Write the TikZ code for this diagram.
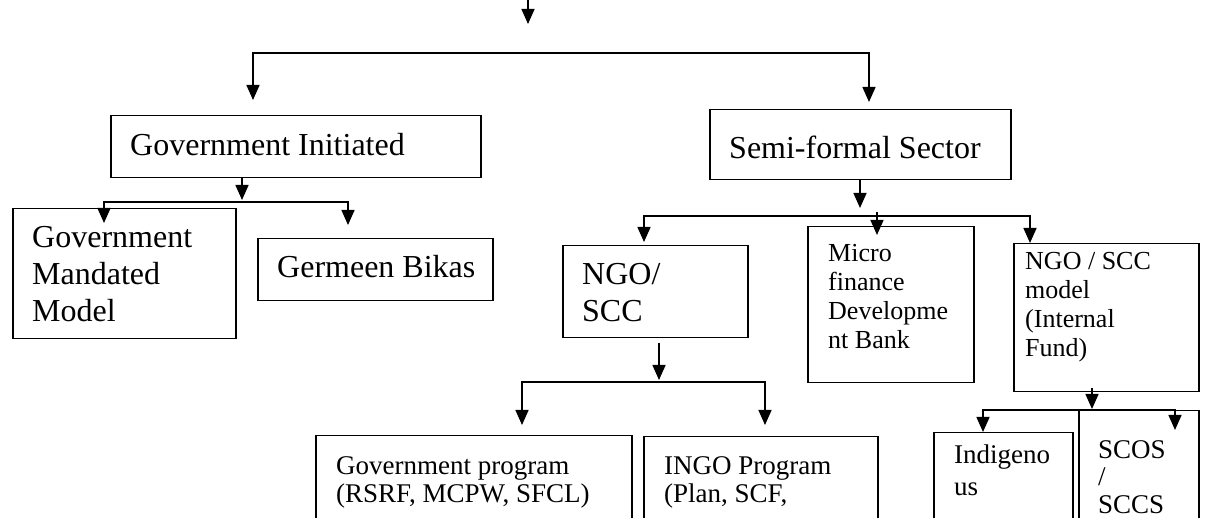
\documentclass[tikz,border=0pt]{standalone}
\usepackage{fontspec}
\setmainfont{Liberation Serif}
\usetikzlibrary{arrows.meta}
\begin{document}
\begin{tikzpicture}[x=1pt,y=-1pt,
  box/.style={draw, line width=1.5pt, inner sep=0pt, anchor=north west},
  big/.style={font=\fontsize{32}{37}\selectfont, align=left, inner sep=0pt, anchor=north west},
  small/.style={font=\fontsize{26}{29}\selectfont, align=left, inner sep=0pt, anchor=north west},
  tiny/.style={font=\fontsize{27}{28}\selectfont, align=left, inner sep=0pt, anchor=north west},
  ln/.style={line width=1.5pt},
  arr/.style={line width=1.5pt, -{Triangle[width=13pt,length=15pt]}},
  arrb/.style={line width=1.5pt, {Triangle[width=13pt,length=15pt]}-{Triangle[width=13pt,length=15pt]}}
]
\clip (0,0) rectangle (1205,518);
% boxes
\node[box, minimum width=370pt, minimum height=62pt] (gov) at (110,115) {};
\node[box, minimum width=301pt, minimum height=70pt] (semi) at (709,109) {};
\node[box, minimum width=223pt, minimum height=130pt] (gmm) at (12,208) {};
\node[box, minimum width=235pt, minimum height=62pt] (germ) at (257,238) {};
\node[box, minimum width=185pt, minimum height=92pt] (ngo) at (562,245) {};
\node[box, minimum width=166pt, minimum height=156pt] (micro) at (807,226) {};
\node[box, minimum width=185pt, minimum height=148pt] (model) at (1013,243) {};
\node[box, minimum width=316pt, minimum height=100pt] (gp) at (315,435) {};
\node[box, minimum width=234pt, minimum height=100pt] (ingo) at (643,436) {};
\node[box, minimum width=139pt, minimum height=100pt] (ind) at (933,432) {};
\node[box, minimum width=120pt, minimum height=120pt] (scos) at (1078,410) {};
% texts
\node[big] (govT) at (130,133) {Government Initiated};
\node[big] (semiT) at (729,136) {Semi-formal Sector};
\node[big] (gmmT) at (32,226) {Government\\Mandated\\Model};
\node[big] (germT) at (277,255) {Germeen Bikas};
\node[big] (ngoT) at (582,263) {NGO/\\SCC};
\node[small] (microT) at (828,244) {Micro\\finance\\Developme\\nt Bank};
\node[small] (modelT) at (1025,252) {NGO / SCC\\model\\(Internal\\Fund)};
\node[tiny] (gpT) at (336,456) {Government program\\(RSRF, MCPW, SFCL)};
\node[tiny] (ingoT) at (664,456) {INGO Program\\(Plan, SCF,};
\node[small, font=\fontsize{27}{32}\selectfont] (indT) at (954,445) {Indigeno\\us};
\node[small, font=\fontsize{27}{27.5}\selectfont] (scosT) at (1098,440) {SCOS\\/\\SCCS};
% coordinates
\coordinate (t0) at (528,-2);  \coordinate (t1) at (528,24);
\coordinate (a1) at (253,100); \coordinate (b1L) at (253,53);
\coordinate (b1R) at (869,53); \coordinate (a2) at (869,102);
\coordinate (g0) at (242,177); \coordinate (g1) at (242,200);
\coordinate (c1) at (104,223); \coordinate (b2L) at (104,202);
\coordinate (b2R) at (348,202); \coordinate (c2) at (348,225);
\coordinate (s0) at (860,179); \coordinate (s1) at (860,208);
\coordinate (d1) at (644,242); \coordinate (b3L) at (644,216);
\coordinate (b3R) at (1030,216); \coordinate (d3) at (1030,243);
\coordinate (m0) at (877,212); \coordinate (d2) at (877,235);
\coordinate (n0) at (659,343); \coordinate (n1) at (659,380);
\coordinate (e1) at (522,425); \coordinate (b4L) at (522,382);
\coordinate (b4R) at (765,382); \coordinate (e2) at (765,425);
\coordinate (o0) at (1092,388); \coordinate (o1) at (1092,409);
\coordinate (f1) at (983,432); \coordinate (b5L) at (983,410);
\coordinate (b5R) at (1175,410); \coordinate (f2) at (1175,430);
% connectors
\draw[arr] (t0) -- (t1);
\draw[arrb] (a1) -- (b1L) -- (b1R) -- (a2);
\draw[arr] (g0) -- (g1);
\draw[arrb] (c1) -- (b2L) -- (b2R) -- (c2);
\draw[arr] (s0) -- (s1);
\draw[arrb] (d1) -- (b3L) -- (b3R) -- (d3);
\draw[arr] (m0) -- (d2);
\draw[arr] (n0) -- (n1);
\draw[arrb] (e1) -- (b4L) -- (b4R) -- (e2);
\draw[arr] (o0) -- (o1);
\draw[arrb] (f1) -- (b5L) -- (b5R) -- (f2);
\end{tikzpicture}
\end{document}
